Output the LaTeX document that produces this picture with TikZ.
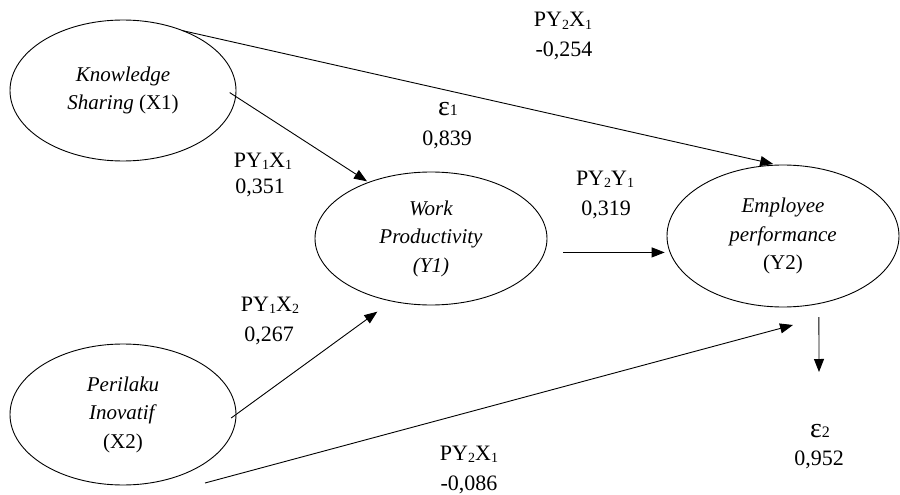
\documentclass[tikz,border=0pt]{standalone}
\usepackage{fontspec}
\setmainfont{Liberation Serif}
\usetikzlibrary{arrows.meta,shapes.geometric,calc}
\newcommand{\sbs}[1]{\raisebox{-0.12em}{\fontsize{14}{14}\selectfont #1}}
\newcommand{\epsl}[1]{{\fontsize{28}{28}\selectfont ε}{\fontsize{16}{16}\selectfont #1}}
\begin{document}
\begin{tikzpicture}[x=1pt,y=-1pt,
  latent/.style={ellipse,draw,line width=0.9pt,inner sep=0pt,outer sep=0pt,align=center,
    font=\fontsize{21}{28.5}\selectfont},
  lbl/.style={anchor=base,inner sep=0pt,font=\fontsize{22}{26}\selectfont},
  pth/.style={line width=0.9pt,-{Triangle[length=13pt,width=10pt]}}]
\useasboundingbox (0,0) rectangle (900,495);
% latent variables
\node[latent,minimum width=226pt,minimum height=141pt] (X1) at (123,90.5)
  {\textit{Knowledge}\\\textit{Sharing} (X1)};
\node[latent,minimum width=226pt,minimum height=141pt] (X2) at (123,414.5)
  {\textit{Perilaku}\\\textit{Inovatif}\\(X2)};
\node[latent,minimum width=232pt,minimum height=133pt] (Y1) at (431,238.5)
  {\textit{Work}\\\textit{Productivity}\\\textit{(Y1)}};
\node[latent,minimum width=232pt,minimum height=142pt] (Y2) at (783,236)
  {\textit{Employee}\\\textit{performance}\\(Y2)};
% free ends
\coordinate (x2out) at (205,483);
\coordinate (y2in) at (793,325);
\coordinate (e2tip) at (819,372);
% paths
\draw[pth,shorten >=5pt] (X1.45) -- (Y2.94);
\draw[pth,shorten <=-7pt,shorten >=2pt] (X1.-3) -- (Y1.138);
\draw[pth,shorten <=-6pt,shorten >=18pt] (X2.0) -- (Y1.238);
\draw[pth] (x2out) -- (y2in);
\draw[pth,shorten <=19pt,shorten >=6pt] (Y1.-7) -- (Y1.-7 -| Y2.189);
\draw[pth,shorten <=13.5pt] (Y2.-62) -- (e2tip);
% labels
\node[lbl] (l1a) at (563,27) {PY\sbs{2}X\sbs{1}};
\node[lbl] (l1b) at (564,57) {-0,254};
\node[lbl] (e1a) at (448,115) {\epsl{1}};
\node[lbl] (e1b) at (447,145) {0,839};
\node[lbl] (l2a) at (263,167) {PY\sbs{1}X\sbs{1}};
\node[lbl] (l2b) at (260,193) {0,351};
\node[lbl] (l3a) at (605,185) {PY\sbs{2}Y\sbs{1}};
\node[lbl] (l3b) at (606,215) {0,319};
\node[lbl] (l4a) at (270,311) {PY\sbs{1}X\sbs{2}};
\node[lbl] (l4b) at (269,341) {0,267};
\node[lbl] (l5a) at (469,460) {PY\sbs{2}X\sbs{1}};
\node[lbl] (l5b) at (469,490) {-0,086};
\node[lbl] (e2a) at (820,437) {\epsl{2}};
\node[lbl] (e2b) at (819,465) {0,952};
\end{tikzpicture}
\end{document}
